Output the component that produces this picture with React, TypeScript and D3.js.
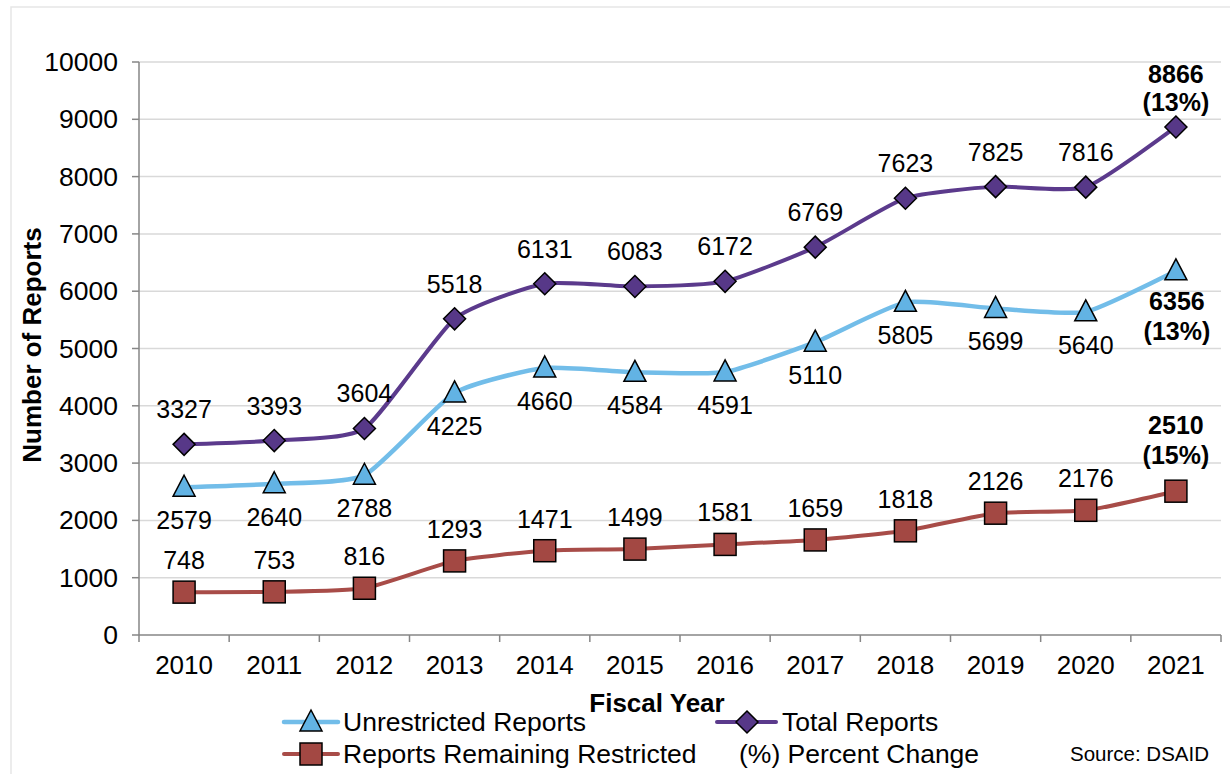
import React from "react";
import * as d3 from "d3";

const years = ["2010","2011","2012","2013","2014","2015","2016","2017","2018","2019","2020","2021"];
const unrestricted = [2579,2640,2788,4225,4660,4584,4591,5110,5805,5699,5640,6356];
const total = [3327,3393,3604,5518,6131,6083,6172,6769,7623,7825,7816,8866];
const restricted = [748,753,816,1293,1471,1499,1581,1659,1818,2126,2176,2510];
const yTicks = [0,1000,2000,3000,4000,5000,6000,7000,8000,9000,10000];
const lastPct = { total: "(13%)", unrestricted: "(13%)", restricted: "(15%)" };

const W = 1230, H = 774;
const FONT = "'Liberation Sans', Arial, sans-serif";
const BLUE = "#72BDE9", BLUE_M = "#62B3E4";
const PURPLE = "#5B3A8C", PURPLE_M = "#573888";
const RED = "#A84C48", RED_M = "#A34843";

export default function App() {
  const x = d3.scaleBand<string>().domain(years).range([139, 1221]);
  const y = d3.scaleLinear().domain([0, 10000]).range([635, 62]);
  const cx = (i: number) => (x(years[i]) as number) + x.bandwidth() / 2;
  const line = d3.line<number>().x((_, i) => cx(i)).y(d => y(d)).curve(d3.curveCardinal.tension(0.45));
  const last = years.length - 1;

  const tri = (px: number, py: number, key: string) => (
    <path key={key} d={`M${px},${py - 12}L${px + 11},${py + 9}L${px - 11},${py + 9}Z`} fill={BLUE_M} stroke="#000" strokeWidth={1.5} />
  );
  const dia = (px: number, py: number, key: string) => (
    <path key={key} d={`M${px},${py - 11}L${px + 11},${py}L${px},${py + 11}L${px - 11},${py}Z`} fill={PURPLE_M} stroke="#000" strokeWidth={1.5} />
  );
  const sq = (px: number, py: number, key: string) => (
    <rect key={key} x={px - 11} y={py - 11} width={22} height={22} fill={RED_M} stroke="#000" strokeWidth={1.5} />
  );

  return (
    <svg width={W} height={H} style={{ position: "absolute", left: 0, top: 0 }} fontFamily={FONT}>
      <rect x={0} y={0} width={W} height={H} fill="#fff" />
      <rect x={11} y={7} width={1240} height={800} fill="none" stroke="#e6e6e6" strokeWidth={1.5} />
      {yTicks.filter(t => t > 0).map(t => (
        <line key={t} x1={139} x2={1221} y1={y(t)} y2={y(t)} stroke="#d9d9d9" strokeWidth={1.5} />
      ))}
      <line x1={139} x2={139} y1={y(10000)} y2={y(0)} stroke="#868686" strokeWidth={1.5} />
      {yTicks.map(t => (
        <g key={t}>
          <line x1={132} x2={139} y1={y(t)} y2={y(t)} stroke="#868686" strokeWidth={1.5} />
          <text x={118} y={y(t) + 9} textAnchor="end" fontSize={26.5} fill="#000">{t}</text>
        </g>
      ))}
      <line x1={139} x2={1221} y1={y(0)} y2={y(0)} stroke="#868686" strokeWidth={1.5} />
      {years.map(yr => (
        <line key={"t" + yr} x1={x(yr) as number} x2={x(yr) as number} y1={y(0)} y2={y(0) + 7} stroke="#868686" strokeWidth={1.5} />
      ))}
      <line x1={1221} x2={1221} y1={y(0)} y2={y(0) + 7} stroke="#868686" strokeWidth={1.5} />
      {years.map((yr, i) => (
        <text key={"l" + yr} x={cx(i)} y={674} textAnchor="middle" fontSize={26} fill="#000">{yr}</text>
      ))}
      <text x={657} y={712} textAnchor="middle" fontSize={26} fontWeight="bold" fill="#000">Fiscal Year</text>
      <text transform="translate(41,345) rotate(-90)" textAnchor="middle" fontSize={26} fontWeight="bold" fill="#000">Number of Reports</text>

      <path d={line(restricted) || ""} fill="none" stroke={RED} strokeWidth={4} />
      <path d={line(unrestricted) || ""} fill="none" stroke={BLUE} strokeWidth={4.5} />
      <path d={line(total) || ""} fill="none" stroke={PURPLE} strokeWidth={4} />
      {restricted.map((v, i) => sq(cx(i), y(v), "s" + i))}
      {unrestricted.map((v, i) => tri(cx(i), y(v), "u" + i))}
      {total.map((v, i) => dia(cx(i), y(v), "d" + i))}

      {total.map((v, i) => i < last ? (
        <text key={"tl" + i} x={cx(i)} y={y(v) - 26} textAnchor="middle" fontSize={25} fill="#000">{v}</text>
      ) : null)}
      {unrestricted.map((v, i) => i < last ? (
        <text key={"ul" + i} x={cx(i)} y={y(v) + 42} textAnchor="middle" fontSize={25} fill="#000">{v}</text>
      ) : null)}
      {restricted.map((v, i) => i < last ? (
        <text key={"rl" + i} x={cx(i)} y={y(v) - 23} textAnchor="middle" fontSize={25} fill="#000">{v}</text>
      ) : null)}
      <g fontSize={25} fontWeight="bold" textAnchor="middle" fill="#000">
        <text x={cx(last)} y={y(total[last]) - 44}>{total[last]}</text>
        <text x={cx(last)} y={y(total[last]) - 16}>{lastPct.total}</text>
        <text x={cx(last) + 1} y={y(unrestricted[last]) + 39}>{unrestricted[last]}</text>
        <text x={cx(last) + 1} y={y(unrestricted[last]) + 69}>{lastPct.unrestricted}</text>
        <text x={cx(last)} y={y(restricted[last]) - 57}>{restricted[last]}</text>
        <text x={cx(last)} y={y(restricted[last]) - 27}>{lastPct.restricted}</text>
      </g>

      <line x1={284} x2={338} y1={722} y2={722} stroke={BLUE} strokeWidth={4.5} strokeLinecap="round" />
      {tri(311, 722, "lg1")}
      <text x={343} y={731} fontSize={26.5} fill="#000">Unrestricted Reports</text>
      <line x1={284} x2={338} y1={754} y2={754} stroke={RED} strokeWidth={4} strokeLinecap="round" />
      {sq(311, 754, "lg2")}
      <text x={343} y={763} fontSize={26.5} fill="#000">Reports Remaining Restricted</text>
      <line x1={717} x2={776} y1={722} y2={722} stroke={PURPLE} strokeWidth={4} strokeLinecap="round" />
      {dia(747, 722, "lg3")}
      <text x={782} y={731} fontSize={26.5} fill="#000">Total Reports</text>
      <text x={739} y={763} fontSize={26.5} fill="#000">(%) Percent Change</text>
      <text x={1070} y={761} fontSize={20.5} fill="#000">Source: DSAID</text>
    </svg>
  );
}
